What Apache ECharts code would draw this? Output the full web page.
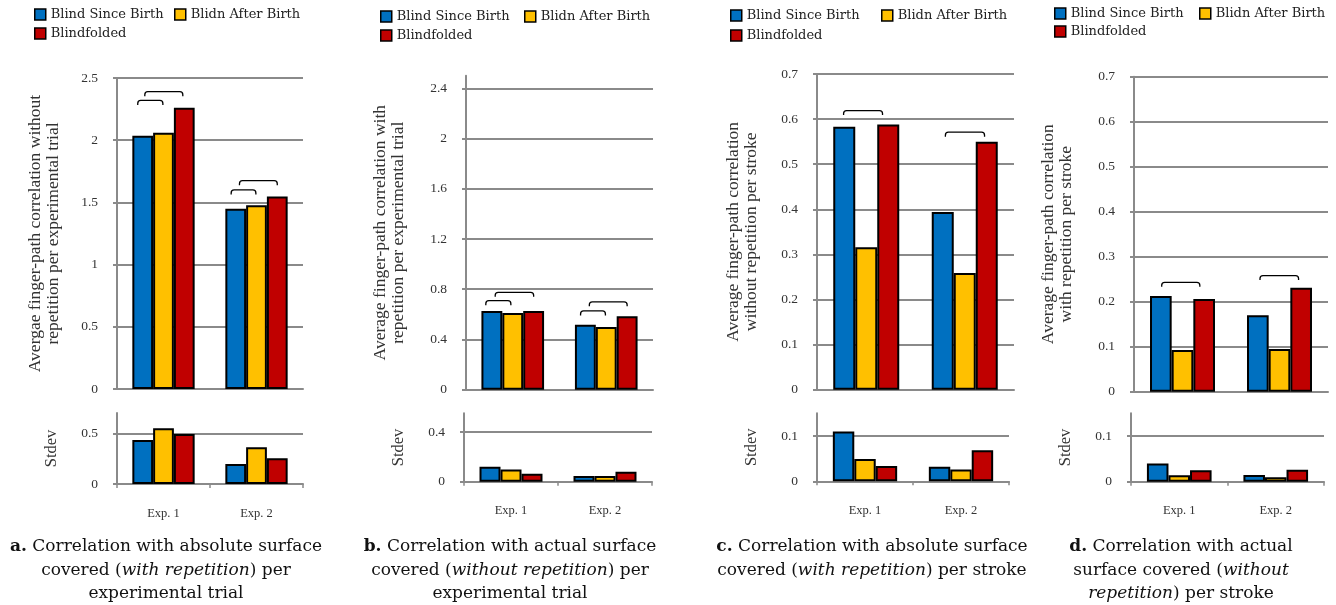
<!DOCTYPE html>
<html>
<head>
<meta charset="utf-8">
<script src="https://cdn.jsdelivr.net/npm/echarts@6/dist/echarts.min.js"></script>
<style>html,body{margin:0;padding:0;background:#fff;}#c{width:1336px;height:605px;}</style>
</head>
<body>
<div id="c"></div>
<script>
// ---- data ----
const categories = ['Exp. 1', 'Exp. 2'];
const seriesNames = ['Blind Since Birth', 'Blidn After Birth', 'Blindfolded'];

const aMainBlind = [2.035, 1.448];
const aMainAfter = [2.06, 1.477];
const aMainFolded = [2.26, 1.547];
const aStdBlind = [0.434, 0.197];
const aStdAfter = [0.55, 0.362];
const aStdFolded = [0.494, 0.254];

const bMainBlind = [0.627, 0.518];
const bMainAfter = [0.611, 0.499];
const bMainFolded = [0.627, 0.584];
const bStdBlind = [0.12, 0.046];
const bStdAfter = [0.099, 0.046];
const bStdFolded = [0.064, 0.08];

const cMainBlind = [0.583, 0.394];
const cMainAfter = [0.316, 0.259];
const cMainFolded = [0.588, 0.55];
const cStdBlind = [0.110, 0.032];
const cStdAfter = [0.049, 0.026];
const cStdFolded = [0.0335, 0.0686];

const dMainBlind = [0.2127, 0.170];
const dMainAfter = [0.0927, 0.095];
const dMainFolded = [0.206, 0.231];
const dStdBlind = [0.040, 0.0146];
const dStdAfter = [0.014, 0.010];
const dStdFolded = [0.025, 0.026];

// significance brackets: [category index, from bar slot, to bar slot, height]
const aBrackets = [[0, -0.24, 0.97, 2.32], [0, 0.1, 1.93, 2.39], [1, -0.22, 0.97, 1.60], [1, 0.18, 2.0, 1.675]];
const bBrackets = [[0, -0.29, 0.91, 0.709], [0, 0.16, 2.0, 0.775], [1, -0.23, 0.96, 0.627], [1, 0.19, 2.0, 0.70]];
const cBrackets = [[0, -0.03, 1.74, 0.619], [1, 0.12, 1.9, 0.571]];
const dBrackets = [[0, 0.04, 1.8, 0.243], [1, 0.1, 1.88, 0.258]];

// tick values
const aMainTicks = [0, 0.5, 1, 1.5, 2, 2.5];
const aStdTicks = [0, 0.5];
const bMainTicks = [0, 0.4, 0.8, 1.2, 1.6, 2, 2.4];
const bStdTicks = [0, 0.4];
const cMainTicks = [0, 0.1, 0.2, 0.3, 0.4, 0.5, 0.6, 0.7];
const cStdTicks = [0, 0.1];
const dMainTicks = [0, 0.1, 0.2, 0.3, 0.4, 0.5, 0.6, 0.7];
const dStdTicks = [0, 0.1];

const colors = ['#0070C0', '#FFC000', '#C00000'];
const GRAY = '#8a8a8a';
const TXT = '#333333';
const SERIF = 'Liberation Serif';
const SERIF2 = 'DejaVu Serif';

const panels = [
  {
    main: {left: 117, top: 78, width: 186, height: 311, max: 2.5, interval: 0.5, ticks: aMainTicks},
    std: {left: 117, top: 413, width: 186, height: 71, max: 0.7, interval: 0.5, ticks: aStdTicks},
    mainData: [aMainBlind, aMainAfter, aMainFolded],
    stdData: [aStdBlind, aStdAfter, aStdFolded],
    brackets: aBrackets,
    name: 'Avergae finger-path correlation without\nrepetition per experimental trial',
    nameGap: 54, stdGap: 56,
    legend: [[34, 8], [174, 8], [34, 27]],
    caption: {x: 166, text: '{b|a.} Correlation with absolute surface\ncovered ({i|with repetition}) per\nexperimental trial'}
  },
  {
    main: {left: 466, top: 75.7, width: 187, height: 314, max: 2.5, interval: 0.4, ticks: bMainTicks},
    std: {left: 464, top: 413.3, width: 188, height: 68.4, max: 0.55, interval: 0.4, ticks: bStdTicks},
    mainData: [bMainBlind, bMainAfter, bMainFolded],
    stdData: [bStdBlind, bStdAfter, bStdFolded],
    brackets: bBrackets,
    name: 'Average finger-path correlation with\nrepetition per experimental trial',
    nameGap: 58, stdGap: 56,
    legend: [[380, 10], [524, 10], [380, 29]],
    caption: {x: 510, text: '{b|b.} Correlation with actual surface\ncovered ({i|without repetition}) per\nexperimental trial'}
  },
  {
    main: {left: 817, top: 74, width: 197, height: 315.7, max: 0.7, interval: 0.1, ticks: cMainTicks},
    std: {left: 817, top: 413.3, width: 192, height: 68, max: 0.15, interval: 0.1, ticks: cStdTicks},
    mainData: [cMainBlind, cMainAfter, cMainFolded],
    stdData: [cStdBlind, cStdAfter, cStdFolded],
    brackets: cBrackets,
    name: 'Average finger-path correlation\nwithout repetition per stroke',
    nameGap: 56, stdGap: 56,
    legend: [[730, 9], [881, 9], [730, 29]],
    caption: {x: 872, text: '{b|c.} Correlation with absolute surface\ncovered ({i|with repetition}) per stroke'}
  },
  {
    main: {left: 1134, top: 76.7, width: 194, height: 315, max: 0.7, interval: 0.1, ticks: dMainTicks},
    std: {left: 1131, top: 413.3, width: 193, height: 68.4, max: 0.15, interval: 0.1, ticks: dStdTicks},
    mainData: [dMainBlind, dMainAfter, dMainFolded],
    stdData: [dStdBlind, dStdAfter, dStdFolded],
    brackets: dBrackets,
    name: 'Average finger-path correlation\nwith repetition per stroke',
    nameGap: 58, stdGap: 56,
    legend: [[1054, 7], [1199, 7], [1054, 25]],
    caption: {x: 1181, text: '{b|d.} Correlation with actual\nsurface covered ({i|without}\n{i|repetition}) per stroke'}
  }
];

const grid = [], xAxis = [], yAxis = [], series = [], legend = [], graphic = [];

function yAxisCfg(g, gi, name, gap, nameSize) {
  return {
    type: 'value', gridIndex: gi, min: 0, max: g.max, interval: g.interval,
    name: name, nameLocation: 'middle', nameGap: gap, nameRotate: 90,
    nameTextStyle: {fontFamily: SERIF, fontSize: nameSize, color: TXT, lineHeight: 18.5},
    axisLine: {show: true, lineStyle: {color: GRAY, width: 2}},
    axisTick: {show: true, length: 4, lineStyle: {color: GRAY, width: 2}, customValues: g.ticks},
    axisLabel: {fontFamily: SERIF, fontSize: 13.5, color: TXT, margin: 19, customValues: g.ticks},
    splitLine: {show: true, lineStyle: {color: GRAY, width: 2}}
  };
}

function bracketRender(params, api) {
  const cat = api.value(0), from = api.value(1), to = api.value(2), h = api.value(3);
  const p = api.coord([cat, h]);
  const catW = api.size([1, 0])[0];
  const barW = catW * 0.67 / 3;
  const x1 = p[0] + (from - 1) * barW;
  const x2 = p[0] + (to - 1) * barW;
  const y = p[1], leg = 4.5, r = 3;
  return {
    type: 'path',
    shape: {
      pathData: 'M' + x1 + ' ' + (y + leg) + ' L' + x1 + ' ' + (y + r) +
        ' Q' + x1 + ' ' + y + ' ' + (x1 + r) + ' ' + y +
        ' L' + (x2 - r) + ' ' + y +
        ' Q' + x2 + ' ' + y + ' ' + x2 + ' ' + (y + r) +
        ' L' + x2 + ' ' + (y + leg)
    },
    style: {fill: null, stroke: '#000', lineWidth: 1.3}
  };
}

panels.forEach((P, pi) => {
  const gm = pi * 2, gs = pi * 2 + 1;
  grid.push({left: P.main.left, top: P.main.top, width: P.main.width, height: P.main.height, containLabel: false});
  grid.push({left: P.std.left, top: P.std.top, width: P.std.width, height: P.std.height, containLabel: false});
  xAxis.push({
    type: 'category', gridIndex: gm, data: categories,
    axisLine: {show: true, lineStyle: {color: GRAY, width: 2}},
    axisTick: {show: false}, axisLabel: {show: false}, splitLine: {show: false}
  });
  xAxis.push({
    type: 'category', gridIndex: gs, data: categories,
    axisLine: {show: true, lineStyle: {color: GRAY, width: 2}},
    axisTick: {show: true, length: 4, lineStyle: {color: GRAY, width: 1.5}},
    axisLabel: {fontFamily: SERIF, fontSize: 12.5, color: TXT, margin: 23}, splitLine: {show: false}
  });
  yAxis.push(yAxisCfg(P.main, gm, P.name, P.nameGap, 17.5));
  yAxis.push(yAxisCfg(P.std, gs, 'Stdev', P.stdGap, 16.5));
  for (let k = 0; k < 3; k++) {
    const common = {
      type: 'bar', name: seriesNames[k], barGap: '0%', barCategoryGap: '33%',
      itemStyle: {color: colors[k], borderColor: '#000', borderWidth: 2},
      emphasis: {disabled: true}
    };
    series.push(Object.assign({}, common, {xAxisIndex: gm, yAxisIndex: gm, data: P.mainData[k]}));
    series.push(Object.assign({}, common, {xAxisIndex: gs, yAxisIndex: gs, data: P.stdData[k]}));
  }
  series.push({
    type: 'custom', xAxisIndex: gm, yAxisIndex: gm, renderItem: bracketRender,
    data: P.brackets, encode: {x: 0, y: 3}, clip: false, silent: true, z: 5
  });
  P.legend.forEach((pos, k) => {
    legend.push({
      data: [seriesNames[k]], left: pos[0], top: pos[1], padding: 0,
      icon: 'rect', itemWidth: 11, itemHeight: 11,
      itemStyle: {borderColor: '#000', borderWidth: 1.5},
      textStyle: {fontFamily: SERIF2, fontSize: 13, color: '#222'},
      selectedMode: false
    });
  });
  graphic.push({
    type: 'text', x: P.caption.x, y: 535,
    style: {
      text: P.caption.text, align: 'center', verticalAlign: 'top',
      fontFamily: SERIF2, fontSize: 17, fill: '#111', lineHeight: 23.5,
      rich: {
        b: {fontFamily: SERIF2, fontSize: 17, fontWeight: 'bold', fill: '#111', lineHeight: 23.5},
        i: {fontFamily: SERIF2, fontSize: 17, fontStyle: 'italic', fill: '#111', lineHeight: 23.5}
      }
    }
  });
});

const chart = echarts.init(document.getElementById('c'), null, {renderer: 'canvas'});
chart.setOption({
  animation: false,
  backgroundColor: '#fff',
  grid, xAxis, yAxis, series, legend, graphic
});
</script>
</body>
</html>
